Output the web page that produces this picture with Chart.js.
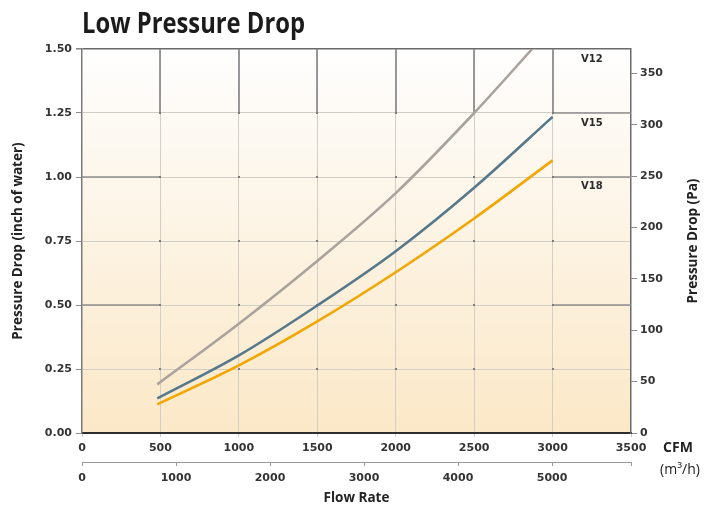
<!DOCTYPE html>
<html><head><meta charset="utf-8">
<script src="https://cdn.jsdelivr.net/npm/chart.js@4.4.1/dist/chart.umd.min.js"></script>
<style>html,body{margin:0;padding:0;background:#fff;}#wrap{width:704px;height:508px;}</style>
</head><body><div id="wrap"><canvas id="c" width="704" height="508"></canvas></div>
<script>
// ---- data ----
const chartTitle = 'Low Pressure Drop';
const seriesNames = ['V12', 'V15', 'V18'];
const flowV12 = [480, 1000, 1500, 2000, 2500, 2870];       // CFM
const dropV12 = [0.19, 0.427, 0.672, 0.937, 1.25, 1.50];   // inch of water
const flowV15 = [480, 1000, 1500, 2000, 2500, 3000];
const dropV15 = [0.135, 0.303, 0.498, 0.71, 0.958, 1.235];
const flowV18 = [480, 1000, 1500, 2000, 2500, 3000];
const dropV18 = [0.112, 0.264, 0.436, 0.628, 0.838, 1.065];
const cfmTicks = [0, 500, 1000, 1500, 2000, 2500, 3000, 3500];
const m3hTicks = [0, 1000, 2000, 3000, 4000, 5000];
const inchTicks = [0, 0.25, 0.5, 0.75, 1.0, 1.25, 1.5];
const paTicks = [0, 50, 100, 150, 200, 250, 300, 350];
const PA_PER_INCH = 249.089;
const CFM_MAX = 3500, M3H_MAX = 5840, INCH_MAX = 1.5;

const colors = ['#aaa29c', '#57788b', '#f2a602'];
const TXT = '#333';
const FONT_T = '"Open Sans", "DejaVu Sans", sans-serif';
const FONT_N = '"DejaVu Sans", sans-serif';

function pts(xs, ys) { return xs.map((x, i) => ({x, y: ys[i]})); }
function setTicks(arr) { return (scale) => { scale.ticks = arr.map(v => ({value: v})); }; }

const decor = {
  id: 'decor',
  beforeDraw(chart) {
    const {ctx, chartArea: a} = chart;
    const g = ctx.createLinearGradient(0, a.top, 0, a.bottom);
    g.addColorStop(0, '#fefefe');
    g.addColorStop(1, '#fbe8c7');
    ctx.save();
    ctx.fillStyle = g;
    ctx.fillRect(a.left, a.top, a.right - a.left, a.bottom - a.top);
    ctx.restore();
  },
  beforeDatasetsDraw(chart) {
    const {ctx} = chart;
    const xs = chart.scales.x, ys = chart.scales.y;
    ctx.save();
    ctx.strokeStyle = '#8e8e92';
    ctx.lineWidth = 1.8;
    cfmTicks.slice(1, -1).forEach(v => {
      const px = Math.round(xs.getPixelForValue(v));
      ctx.beginPath();
      ctx.moveTo(px, ys.getPixelForValue(1.5));
      ctx.lineTo(px, ys.getPixelForValue(1.25));
      ctx.stroke();
    });
    ctx.strokeStyle = '#8f8f8f';
    ctx.lineWidth = 1.5;
    const segs = [[1.0, 0, 500], [0.5, 0, 500], [1.0, 3000, 3500], [0.5, 3000, 3500], [1.25, 3000, 3500]];
    segs.forEach(([yv, x0, x1]) => {
      const py = Math.round(ys.getPixelForValue(yv));
      ctx.beginPath();
      ctx.moveTo(xs.getPixelForValue(x0), py);
      ctx.lineTo(xs.getPixelForValue(x1), py);
      ctx.stroke();
    });
    ctx.fillStyle = '#7d7b78';
    cfmTicks.slice(1, -1).forEach(v => {
      inchTicks.slice(1, -1).forEach(w => {
        const px = xs.getPixelForValue(v), py = ys.getPixelForValue(w);
        ctx.fillRect(Math.round(px) - 1, Math.round(py) - 1, 2, 2);
      });
    });
    ctx.restore();
  },
  afterDraw(chart) {
    const {ctx, chartArea: a} = chart;
    const xs = chart.scales.x, ys = chart.scales.y;
    const o = chart.options.plugins.decor;
    ctx.save();
    ctx.fillStyle = '#1b1b1b';
    ctx.font = '700 28px ' + FONT_T;
    ctx.textBaseline = 'alphabetic';
    ctx.textAlign = 'left';
    const w = ctx.measureText(chartTitle).width;
    ctx.save();
    ctx.translate(a.left, 33);
    ctx.scale(o.titleWidth / w, 1);
    ctx.fillText(chartTitle, 0, 0);
    ctx.restore();
    ctx.font = '700 10px ' + FONT_N;
    ctx.fillStyle = '#2a2a2a';
    ctx.textAlign = 'center';
    ctx.textBaseline = 'middle';
    seriesNames.forEach((n, i) => {
      ctx.fillText(n, xs.getPixelForValue(o.labelFlow), ys.getPixelForValue(o.labelLevels[i]));
    });
    ctx.font = '700 13.5px ' + FONT_T;
    ctx.fillStyle = '#222';
    ctx.save();
    ctx.translate(chart.width - 11, (a.top + a.bottom) / 2);
    ctx.rotate(-Math.PI / 2);
    ctx.fillText('Pressure Drop (Pa)', 0, 0);
    ctx.restore();
    ctx.font = '700 14px ' + FONT_T;
    ctx.fillText('CFM', 678, a.bottom + 15);
    ctx.font = '400 14px ' + FONT_T;
    ctx.fillText('(m\u00b3/h)', 680, a.bottom + 37);
    ctx.restore();
  }
};

const tickFont = {family: FONT_N, size: 11, weight: 'bold'};
const titleFont = {family: FONT_T, size: 13.5, weight: '700'};

new Chart(document.getElementById('c'), {
  type: 'line',
  data: {
    datasets: [
      {label: seriesNames[0], data: pts(flowV12, dropV12), borderColor: colors[0]},
      {label: seriesNames[1], data: pts(flowV15, dropV15), borderColor: colors[1]},
      {label: seriesNames[2], data: pts(flowV18, dropV18), borderColor: colors[2]}
    ]
  },
  options: {
    responsive: false,
    animation: false,
    devicePixelRatio: 1,
    layout: {padding: {top: 49, left: 0, right: 0, bottom: 0}},
    elements: {
      point: {radius: 0},
      line: {borderWidth: 2.6, cubicInterpolationMode: 'monotone', fill: false}
    },
    plugins: {
      legend: {display: false},
      tooltip: {enabled: false},
      decor: {titleWidth: 223, labelFlow: 3250, labelLevels: [1.461, 1.211, 0.965]}
    },
    scales: {
      x: {
        type: 'linear', position: 'bottom', min: 0, max: CFM_MAX, weight: 0,
        afterBuildTicks: setTicks(cfmTicks),
        afterFit: s => { s.height = 29; },
        grid: {
          color: c => (c.tick && (c.tick.value === 0 || c.tick.value === CFM_MAX)) ? 'rgba(0,0,0,0)' : '#d2cdc5',
          lineWidth: 1, drawTicks: true, tickLength: 4, tickColor: '#cfcac2'
        },
        border: {display: true, color: '#2e2e2e', width: 2},
        ticks: {font: tickFont, color: TXT, padding: 5, maxRotation: 0, autoSkip: false, callback: v => String(v)}
      },
      x2: {
        type: 'linear', position: 'bottom', min: 0, max: M3H_MAX, weight: 1,
        afterBuildTicks: s => { s.ticks = m3hTicks.concat([M3H_MAX]).map(v => ({value: v})); },
        afterFit: s => { s.height = 46; },
        grid: {drawOnChartArea: false, drawTicks: true, tickLength: 4, tickColor: '#9a9a9a', color: '#9a9a9a'},
        border: {display: true, color: '#9a9a9a', width: 1},
        ticks: {
          font: tickFont, color: TXT, padding: 6, maxRotation: 0, autoSkip: false,
          callback: v => (m3hTicks.includes(v) ? String(v) : '')
        },
        title: {display: true, text: 'Flow Rate', color: '#222', font: titleFont, padding: {top: 0, bottom: 2}}
      },
      y: {
        type: 'linear', position: 'left', min: 0, max: INCH_MAX,
        afterBuildTicks: setTicks(inchTicks),
        afterFit: s => { s.width = 82; },
        grid: {
          color: c => {
            const v = c.tick && c.tick.value;
            if (v === INCH_MAX) return '#6a6a6a';
            if (v === 0) return 'rgba(0,0,0,0)';
            return '#d2cdc5';
          },
          lineWidth: c => (c.tick && c.tick.value === INCH_MAX) ? 1.6 : 1,
          drawTicks: true, tickLength: 6, tickColor: '#8a8a8a'
        },
        border: {display: true, color: '#7a7a7a', width: 1.5},
        ticks: {font: tickFont, color: TXT, padding: 4, callback: v => Number(v).toFixed(2)},
        title: {display: true, text: 'Pressure Drop (inch of water)', color: '#222', font: titleFont, padding: {top: 10, bottom: 0}}
      },
      y1: {
        type: 'linear', position: 'right', min: 0, max: INCH_MAX * PA_PER_INCH,
        afterBuildTicks: setTicks(paTicks),
        afterFit: s => { s.width = 73; },
        grid: {drawOnChartArea: false, drawTicks: true, tickLength: 6, tickColor: '#8a8a8a', color: '#8a8a8a'},
        border: {display: true, color: '#6a6a6a', width: 1.5},
        ticks: {font: tickFont, color: TXT, padding: 3, callback: v => String(v)}
      }
    }
  },
  plugins: [decor]
});
</script>
</body></html>
